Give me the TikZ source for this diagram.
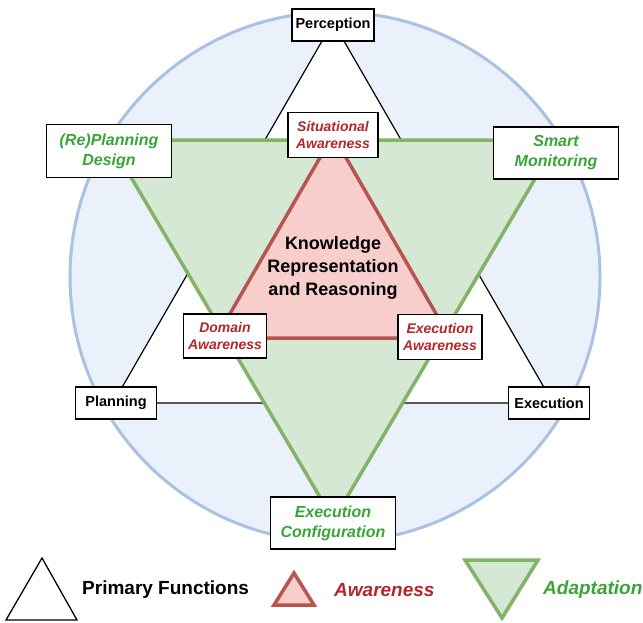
\documentclass[tikz,border=0pt]{standalone}
\usepackage{fontspec}
\setmainfont{Liberation Sans}
\usetikzlibrary{calc}
\definecolor{circfill}{HTML}{EAF1FB}
\definecolor{circline}{HTML}{A9C2E4}
\definecolor{adfill}{HTML}{D5E8D4}
\definecolor{adline}{HTML}{82B366}
\definecolor{awfill}{HTML}{F8CECC}
\definecolor{awline}{HTML}{B85450}
\definecolor{adtext}{HTML}{3AA537}
\definecolor{awtext}{HTML}{B3262B}

\begin{document}
\begin{tikzpicture}[x=1pt,y=-1pt,
  fnbox/.style={draw=black,fill=white,line width=1.1pt,inner sep=0pt,align=center,
    font=\bfseries\fontsize{14.5}{17}\selectfont},
  awbox/.style={fnbox,text=awtext,font=\bfseries\itshape\fontsize{14}{17}\selectfont},
  adbox/.style={fnbox,text=adtext,font=\bfseries\itshape\fontsize{16}{20}\selectfont},
  legend/.style={anchor=west,inner sep=0pt,font=\bfseries\fontsize{19}{22}\selectfont}]
  \useasboundingbox (0,0) rectangle (643,622);
  % background circle
  \draw[circline,fill=circfill,line width=3pt] (335,277) circle (265);
  % primary functions: upright triangle
  \coordinate (pTop) at (333,22);
  \coordinate (pLeft) at (113,403);
  \coordinate (pRight) at (553,403);
  \draw[black,fill=white,line width=1.2pt] (pTop) -- (pLeft) -- (pRight) -- cycle;
  % adaptation: inverted triangle
  \coordinate (aLeft) at (109,140);
  \coordinate (aRight) at (558,140);
  \coordinate (aBot) at (333.5,520);
  \draw[adline,fill=adfill,line width=3.5pt,line join=round] (aLeft) -- (aRight) -- (aBot) -- cycle;
  % awareness: small upright triangle
  \coordinate (wTop) at (333,135);
  \coordinate (wLeft) at (216,338);
  \coordinate (wRight) at (450,338);
  \draw[awline,fill=awfill,line width=3.5pt,line join=round] (wTop) -- (wLeft) -- (wRight) -- cycle;
  \node[align=center,inner sep=0pt,font=\bfseries\fontsize{18}{23}\selectfont] (krr) at (333,268)
    {Knowledge\\Representation\\and Reasoning};
  % boxes on the corners
  \node[fnbox,minimum width=82pt,minimum height=32pt] (perc) at (333,25) {Perception};
  \node[fnbox,minimum width=81pt,minimum height=32pt] (plan) at (116,403) {Planning};
  \node[fnbox,minimum width=81pt,minimum height=32pt] (exec) at (549,403) {Execution};
  \node[adbox,minimum width=125pt,minimum height=53pt] (replan) at (109,151) {(Re)Planning\\Design};
  \node[adbox,minimum width=125pt,minimum height=52pt] (smart) at (556,153) {Smart\\Monitoring};
  \node[adbox,minimum width=125pt,minimum height=52pt] (conf) at (333,523) {Execution\\Configuration};
  \node[awbox,minimum width=90pt,minimum height=45pt] (situ) at (333,135) {Situational\\Awareness};
  \node[awbox,minimum width=83pt,minimum height=44pt] (dom) at (225,336) {Domain\\Awareness};
  \node[awbox,minimum width=84pt,minimum height=45pt] (exaw) at (440,337) {Execution\\Awareness};
  % legend
  \draw[black,fill=white,line width=1.3pt] (6,620) -- (42,558) -- (77,620) -- cycle;
  \node[legend] (lgFn) at (82,590) {Primary Functions};
  \draw[awline,fill=awfill,line width=3.5pt] (274,605) -- (294,573) -- (314,605) -- cycle;
  \node[legend,text=awtext,font=\bfseries\itshape\fontsize{19}{22}\selectfont] (lgAw) at (334,590) {Awareness};
  \draw[adline,fill=adfill,line width=3.5pt] (465,560) -- (538,560) -- (502,618) -- cycle;
  \node[legend,text=adtext,font=\bfseries\itshape\fontsize{19}{22}\selectfont] (lgAd) at (543,590) {Adaptation};
\end{tikzpicture}
\end{document}
